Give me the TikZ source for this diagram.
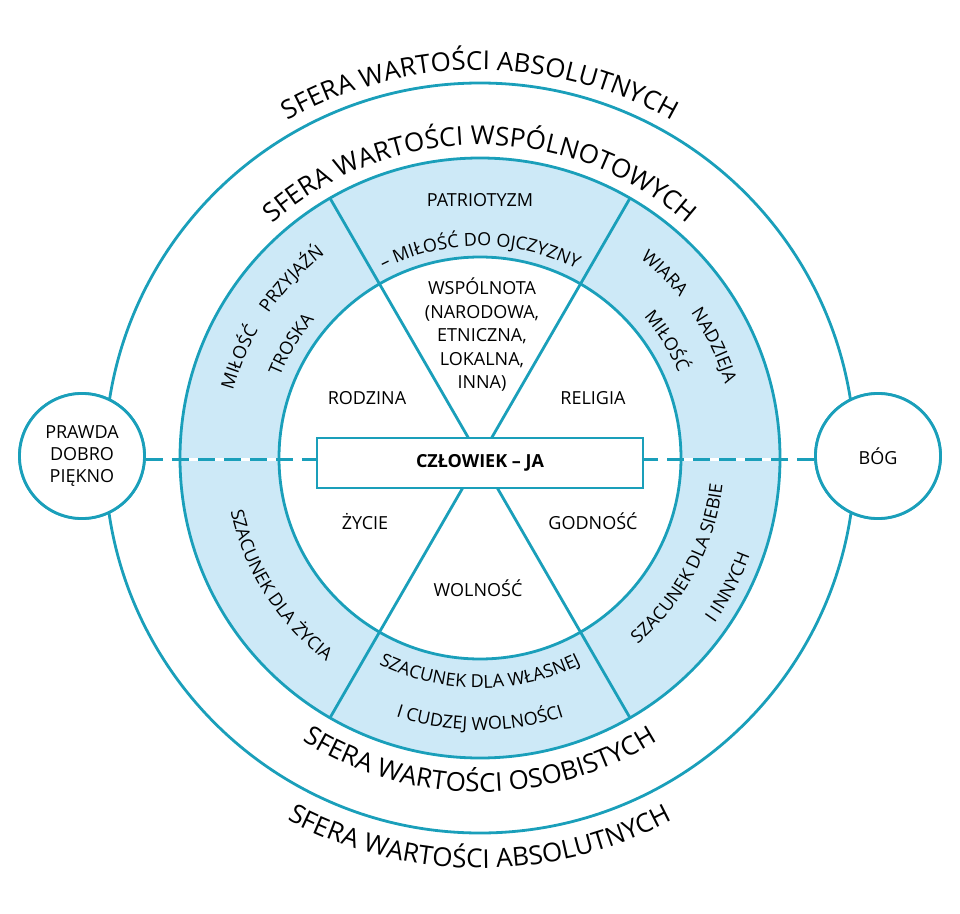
\documentclass[tikz,border=0pt]{standalone}
\usepackage{fontspec}
\setmainfont{Open Sans}
\usetikzlibrary{decorations.text}
\definecolor{teal}{HTML}{1A9FBA}
\definecolor{ringblue}{HTML}{CDE9F7}
\tikzset{
 ln/.style={draw=teal,line width=2.8pt},
 lbl/.style={font=\fontsize{18}{22}\selectfont,align=center},
 side/.style={circle,draw=teal,line width=2.8pt,fill=white,minimum size=125pt,inner sep=0pt},
}
\newcommand{\arctxt}[5]{% radius, start, end, size, text
 \path[decorate,decoration={text along path,text align=center,
   text={|\fontsize{#4}{#4}\selectfont|#5}}]
   (#2:#1) arc[start angle=#2,end angle=#3,radius=#1];}
\begin{document}
\begin{tikzpicture}[x=1pt,y=1pt]
\useasboundingbox (-480,-455) rectangle (480,458);
\coordinate (c) at (0,0);
% ring
\fill[ringblue] (c) circle[radius=300];
\fill[white] (c) circle[radius=201];
\draw[ln] (c) circle[radius=300];
\draw[ln] (c) circle[radius=201];
\foreach \a in {60,120,240,300}{\draw[ln] (c) -- (\a:300);}
% box and side circles
\node[draw=teal,line width=2.8pt,fill=white,minimum width=326pt,minimum height=50pt,font=\fontsize{18}{22}\selectfont\bfseries] (box) at (0,-5) {CZŁOWIEK – JA};
\node[side] (L) at (-398,2) {};
\node[side] (R) at (398,2) {};
\draw[white,line width=3pt] (L.east|-0,-1) -- (box.west|-0,-1);
\draw[teal,line width=3pt,dash pattern=on 17pt off 9pt] (L.east|-0,-1) -- (box.west|-0,-1);
\draw[white,line width=3pt] (box.east|-0,-1) -- (R.west|-0,-1);
\draw[teal,line width=3pt,dash pattern=on 17pt off 9pt] (R.west|-0,-1) -- (box.east|-0,-1);
\draw[ln] (c) circle[radius=375];
\node[side,lbl] (L2) at (-398,2) {PRAWDA\\DOBRO\\PIĘKNO};
\node[side,lbl] (R2) at (398,2) {BÓG};
% inner labels
\node[lbl] (rodzina) at (-113,60) {RODZINA};
\node[lbl] (religia) at (113,60) {RELIGIA};
\node[lbl] (zycie) at (-115,-63) {ŻYCIE};
\node[lbl] (godnosc) at (113,-63) {GODNOŚĆ};
\node[lbl] (wolnosc) at (-2,-130) {WOLNOŚĆ};
\node[lbl,font=\fontsize{18}{23.5}\selectfont] (wsp) at (2,123) {WSPÓLNOTA\\(NARODOWA,\\ETNICZNA,\\LOKALNA,\\INNA)};
\node[lbl] (patr) at (0,258) {PATRIOTYZM};
% ring curved labels
\arctxt{212}{125}{55}{18}{– MIŁOŚĆ DO OJCZYZNY}
\arctxt{256}{180}{112}{18}{MIŁOŚĆ\ \ \ \ PRZYJAŹŃ}
\arctxt{216}{166}{132}{18}{TROSKA}
\arctxt{256}{68}{0}{18}{WIARA\ \ \ \ NADZIEJA}
\arctxt{216}{48}{16}{18}{MIŁOŚĆ}
\arctxt{255}{178}{247}{18}{SZACUNEK DLA ŻYCIA}
\arctxt{244}{297}{367}{18}{SZACUNEK DLA SIEBIE}
\arctxt{287}{315}{350}{18}{I INNYCH}
\arctxt{230}{242}{298}{18}{SZACUNEK DLA WŁASNEJ}
\arctxt{272}{248}{292}{18}{I CUDZEJ WOLNOŚCI}
% sphere labels
\arctxt{313}{155}{25}{26}{SFERA WARTOŚCI WSPÓLNOTOWYCH}
\arctxt{388}{140}{40}{26}{SFERA WARTOŚCI ABSOLUTNYCH}
\arctxt{334}{215}{325}{26}{SFERA WARTOŚCI OSOBISTYCH}
\arctxt{410}{222}{318}{26}{SFERA WARTOŚCI ABSOLUTNYCH}
\end{tikzpicture}
\end{document}
